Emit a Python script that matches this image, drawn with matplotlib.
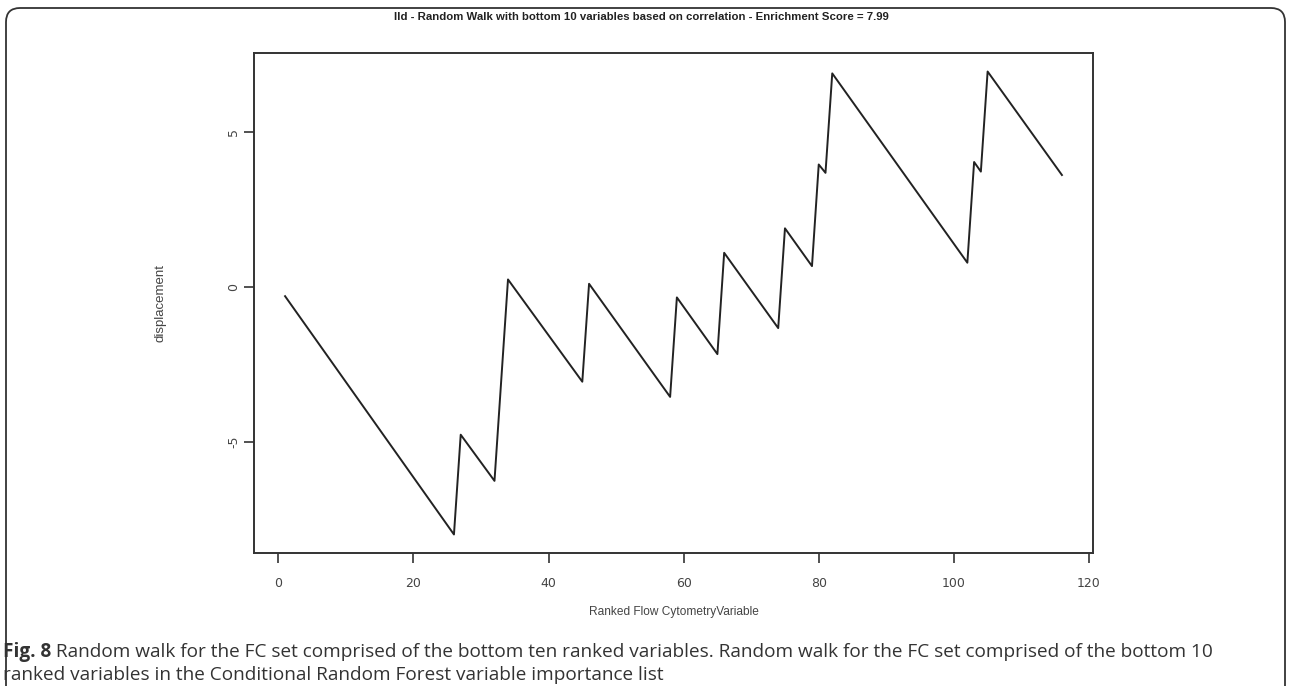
import matplotlib

matplotlib.use("Agg")
import matplotlib.pyplot as plt
from matplotlib.patches import FancyBboxPatch
from matplotlib.transforms import IdentityTransform, offset_copy

# vertices of the random walk (rank, displacement)
rank = [1, 26, 27, 32, 34, 45, 46, 58, 59, 65, 66, 74, 75, 79, 80, 81, 82,
        102, 103, 104, 105, 116]
displacement = [-0.31, -8.0, -4.78, -6.27, 0.23, -3.07, 0.09, -3.56, -0.35,
                -2.18, 1.09, -1.34, 1.88, 0.66, 3.94, 3.67, 6.88, 0.77, 4.02,
                3.71, 6.94, 3.6]
xticks = [0, 20, 40, 60, 80, 100, 120]
yticks = [-5, 0, 5]

title = "lld - Random Walk with bottom 10 variables based on correlation - Enrichment Score = 7.99"
caption_bold = "Fig. 8"
caption_1 = (" Random walk for the FC set comprised of the bottom ten ranked variables. "
             "Random walk for the FC set comprised of the bottom 10")
caption_2 = "ranked variables in the Conditional Random Forest variable importance list"

W, H = 1290, 686
fig = plt.figure(figsize=(W / 100, H / 100), dpi=100)
ax = fig.add_axes([254 / W, 1 - 553 / H, (1093 - 254) / W, (553 - 53) / H])

ax.plot(rank, displacement, color="#222222", lw=1.4)

# R style: 4% padding around data range
xr = max(rank) - min(rank)
yr = max(displacement) - min(displacement)
ax.set_xlim(min(rank) - 0.04 * xr, max(rank) + 0.04 * xr)
ax.set_ylim(min(displacement) - 0.04 * yr, max(displacement) + 0.04 * yr)

ax.set_xticks(xticks)
ax.set_yticks(yticks)
ax.set_yticklabels([str(v) for v in yticks], rotation=90, va="center")
ax.tick_params(length=7, width=1.2, color="#333333", labelcolor="#444444",
               labelsize=9)
ax.tick_params(axis="x", pad=10)
ax.tick_params(axis="y", pad=3)
for s in ax.spines.values():
    s.set_linewidth(1.4)
    s.set_color("#333333")

narrow = ["Liberation Sans Narrow", "Liberation Sans", "DejaVu Sans"]
ax.set_xlabel("Ranked Flow CytometryVariable", fontsize=8.6, color="#444444",
              family=narrow, labelpad=12)
ax.set_ylabel("displacement", fontsize=9.5, color="#444444", family=narrow,
              labelpad=44)
fig.text(0.497, 1 - 17 / H, title, ha="center", va="center", fontsize=8.2,
         fontweight="bold", family=narrow, color="#222222")

# rounded frame around the figure
frame = FancyBboxPatch((6, -40), W - 11, H - 8 + 40,
                       boxstyle="round,pad=0,rounding_size=14",
                       transform=IdentityTransform(), fill=False,
                       ec="#333333", lw=1.3)
fig.patches.append(frame)

cap_font = ["Open Sans", "DejaVu Sans"]
cap_col = "#333333"
t1 = fig.text(3 / W, 1 - 652 / H, caption_bold, ha="left", va="center",
              fontsize=13.7, fontweight="bold", family=cap_font, color=cap_col)
fig.canvas.draw()
bb = t1.get_window_extent()
fig.text(0, 0, caption_1, ha="left", va="center", fontsize=13.7,
         family=cap_font, color=cap_col,
         transform=offset_copy(fig.transFigure, fig=fig, x=bb.x1, y=bb.y0 + bb.height / 2, units="dots"))
fig.text(3 / W, 1 - 675 / H, caption_2, ha="left", va="center", fontsize=13.7,
         family=cap_font, color=cap_col)

fig.savefig("out.png", dpi=100)
